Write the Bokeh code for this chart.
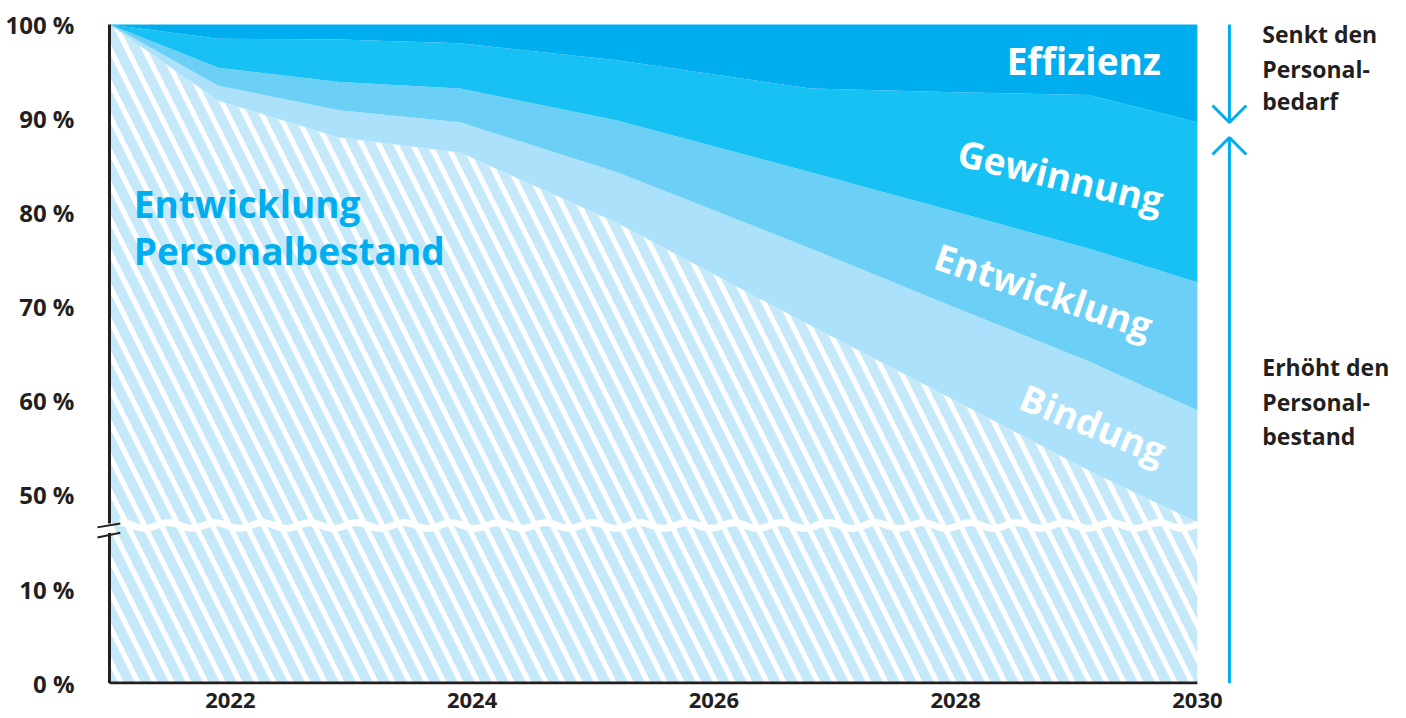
import numpy as np
from bokeh.plotting import figure
from bokeh.models import ColumnDataSource, FixedTicker, Range1d
from bokeh.transform import stack
from bokeh.core.properties import value
from bokeh.embed import file_html
from bokeh.resources import INLINE

# ---------------- data (percent of today's staff) ----------------
years = [2021, 2021.9, 2022.9, 2023.9, 2025.2, 2026.8, 2028, 2029.1, 2030]
personalbestand = [100, 91.9, 88.0, 86.4, 78.9, 68.0, 60.0, 52.6, 47.1]   # hatched base
bindung = [0, 1.6, 2.9, 3.2, 5.4, 8.2, 9.9, 11.6, 11.9]
entwicklung = [0, 1.9, 3.0, 3.6, 5.5, 8.1, 10.2, 12.0, 13.6]
gewinnung = [0, 3.1, 4.5, 4.8, 6.4, 8.9, 12.7, 16.3, 17.0]
effizienz = [0, 1.5, 1.6, 2.0, 3.8, 6.8, 7.2, 7.5, 10.4]

layer_labels = ["Effizienz", "Gewinnung", "Entwicklung", "Bindung"]
base_label = ["Entwicklung", "Personalbestand"]
right_top = ["Senkt den", "Personal-", "bedarf"]
right_bottom = ["Erhöht den", "Personal-", "bestand"]

y_tick_values = [0, 10, 50, 60, 70, 80, 90, 100]
x_tick_years = [2022, 2024, 2026, 2028, 2030]

BREAK_SHIFT = 30  # axis break: values from 50 % upward are drawn 30 units lower


def disp(v):
    return v - BREAK_SHIFT if v >= 40 else v


DARK = "#231f20"
BLUE = "#00aeef"
FONT = value("Open Sans")

p = figure(width=1406, height=718, output_backend="svg", toolbar_location=None,
           x_range=Range1d(2020.843, 2031.73), y_range=Range1d(-0.15, 70.64),
           min_border_left=90, min_border_right=0, min_border_top=18,
           min_border_bottom=34)
p.outline_line_color = None
p.grid.visible = False
p.background_fill_color = "white"

# ---------------- stacked areas ----------------
src = ColumnDataSource(dict(
    x=years,
    base=[disp(v) for v in personalbestand],
    bindung=bindung, entwicklung=entwicklung,
    gewinnung=gewinnung, effizienz=effizienz))

p.varea(x="x", y1=0, y2="base", source=src, fill_color="white",
        hatch_pattern="left_diagonal_line", hatch_color="#c6e9f9",
        hatch_scale=34, hatch_weight=10)
layers = ["base", "bindung", "entwicklung", "gewinnung", "effizienz"]
colors = [None, "#abe1fa", "#6ccff6", "#17c1f3", "#00aeef"]
for i in range(1, len(layers)):
    p.varea(x="x", y1=stack(*layers[:i]), y2=stack(*layers[:i + 1]),
            source=src, fill_color=colors[i])

# white wavy line marking the axis break
wx = np.linspace(2021.08, 2030, 500)
wy = 16.75 + 0.3 * np.sin(2 * np.pi * (wx - 2021) / 0.39)
p.line(wx, wy, line_color="white", line_width=7)

# ---------------- custom axis lines ----------------
p.segment(x0=[2021, 2021], y0=[0, 16.97], x1=[2021, 2021], y1=[15.95, 70],
          line_color=DARK, line_width=3)
p.segment(x0=[2021], y0=[0], x1=[2030], y1=[0], line_color=DARK, line_width=3)
p.segment(x0=[2020.90, 2020.90], y0=[16.55, 15.48], x1=[2021.09, 2021.09],
          y1=[16.97, 15.99], line_color=DARK, line_width=2)

# ---------------- axes ----------------
p.yaxis.ticker = FixedTicker(ticks=[disp(v) for v in y_tick_values])
p.yaxis.major_label_overrides = {disp(v): f"{v} %" for v in y_tick_values}
p.xaxis.ticker = FixedTicker(ticks=x_tick_years)
p.xaxis.major_label_overrides = {y: str(y) for y in x_tick_years}
for ax in (p.xaxis, p.yaxis):
    ax.axis_line_color = None
    ax.major_tick_line_color = None
    ax.minor_tick_line_color = None
    ax.major_label_text_font = "Open Sans"
    ax.major_label_text_font_style = "bold"
    ax.major_label_text_color = DARK
p.yaxis.major_label_text_font_size = "24px"
p.xaxis.major_label_text_font_size = "22px"
p.yaxis.major_label_standoff = 10
p.xaxis.major_label_standoff = 2

# ---------------- arrows on the right ----------------
ax_x = 2030.265
hw, hh = 0.14, 1.8
p.line([ax_x, ax_x], [70, 59.59], line_color=BLUE, line_width=3)
p.line([ax_x - hw, ax_x, ax_x + hw], [59.59 + hh, 59.59, 59.59 + hh],
       line_color=BLUE, line_width=3)
p.line([ax_x, ax_x], [0, 57.99], line_color=BLUE, line_width=3)
p.line([ax_x - hw, ax_x, ax_x + hw], [57.99 - hh, 57.99, 57.99 - hh],
       line_color=BLUE, line_width=3)

# ---------------- texts ----------------
p.text(x=[2029.06, 2028.87, 2028.73, 2029.14],
       y=[66.2, 53.95, 41.73, 27.6],
       text=layer_labels, angle=[0, -13.4, -18.5, -22], angle_units="deg",
       text_align="center", text_baseline="middle", text_color="white",
       text_font=FONT, text_font_style="bold", text_font_size="37px")

p.text(x=[2021.2, 2021.2], y=[50.98, 45.98], text=base_label,
       text_align="left", text_baseline="middle", text_color=BLUE,
       text_font=FONT, text_font_style="bold", text_font_size="37px")

p.text(x=[2030.537] * 3, y=[69.04, 65.32, 61.82], text=right_top,
       text_align="left", text_baseline="middle", text_color=DARK,
       text_font=FONT, text_font_style="bold", text_font_size="23px")
p.text(x=[2030.537] * 3, y=[33.55, 29.83, 26.22], text=right_bottom,
       text_align="left", text_baseline="middle", text_color=DARK,
       text_font=FONT, text_font_style="bold", text_font_size="23px")

open("out.html", "w").write(file_html(p, INLINE))
